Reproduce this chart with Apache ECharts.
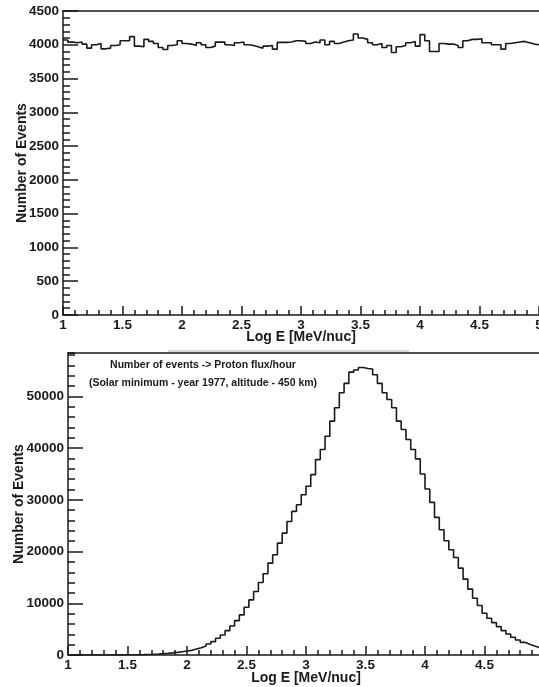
<!DOCTYPE html>
<html><head><meta charset="utf-8">
<script src="https://cdn.jsdelivr.net/npm/echarts@6/dist/echarts.min.js"></script>
<style>html,body{margin:0;padding:0;background:#fff}#c{width:539px;height:687px}</style>
</head><body><div id="c"></div>
<script>
// Histogram binning: 100 bins from Log E = 1 to 5
const binLow = 1;
const binWidth = 0.04;

// Top panel: number of events per bin (flat generated spectrum)
const topCounts = [
  4070,4040,4030,4040,4010,3950,4000,4020,3940,3950,
  3990,4000,4060,4060,4120,3980,3970,4080,4050,4020,
  3960,3930,3990,4000,4060,4020,4010,3990,4030,4000,
  3960,3980,4040,4040,4000,3990,4030,4040,4000,3990,
  3970,3950,3980,3990,3935,4035,4035,4040,4060,4060,
  4050,4020,4040,4030,4070,4000,4050,4020,4040,4060,
  4070,4160,4100,4080,4030,4000,4020,3960,3990,3885,
  3970,3990,4030,4050,3980,4150,4060,3900,3900,4020,
  4010,4010,3990,3960,4060,4080,4080,4090,4030,4030,
  4000,4000,3935,4020,4030,4040,4050,4030,4010,4000
];

// Bottom panel: number of events per bin (proton flux/hour)
const bottomCounts = [
  0,0,0,0,1,2,3,5,8,12,
  18,25,35,45,60,80,110,150,200,260,
  330,410,500,640,770,900,1160,1420,1740,2130,
  2580,3230,3880,4710,5620,6650,7750,9240,10660,12270,
  14020,15700,17760,19380,21640,23570,25830,27770,29060,31000,
  32620,34880,37790,39730,42310,45220,47810,50710,52520,54700,
  55100,55600,55400,55300,54200,52520,50710,49420,47810,45220,
  43600,41670,39730,37920,35010,32100,29520,26610,24230,22100,
  20350,18860,16800,14670,12730,10980,9560,8080,7110,6270,
  5490,4720,4070,3420,2900,2450,2100,1750,1450,1200
];

// Axis settings
const xRange = [1, 5];
const xMajor = 0.5;
const topYRange = [0, 4500];
const topYMajor = 500;
const bottomYRange = [0, 58400];
const bottomYMajor = 10000;
const bottomYMinor = 2000;

const xTitle = 'Log E [MeV/nuc]';
const yTitle = 'Number of Events';
const noteLines = ['Number of events -> Proton flux/hour', '(Solar minimum - year 1977, altitude - 450 km)'];

function stepData(counts) {
  const d = counts.map((c, i) => [+(binLow + i * binWidth).toFixed(2), c]);
  d.push([+(binLow + counts.length * binWidth).toFixed(2), counts[counts.length - 1]]);
  return d;
}

const FONT = '"Liberation Sans", Arial, sans-serif';
const INK = '#1a1a1a';
const lineSty = { color: INK, width: 1.5 };
const labelSty = { color: INK, fontFamily: FONT, fontWeight: 'bold', fontSize: 13.5 };
const nameSty = { color: INK, fontFamily: FONT, fontWeight: 'bold', fontSize: 14 };

function bottomX(grid, gap) {
  return {
    gridIndex: grid, type: 'value', min: xRange[0], max: xRange[1], interval: xMajor,
    axisLine: { show: true, onZero: false, lineStyle: lineSty },
    axisTick: { show: true, inside: true, length: 9, lineStyle: lineSty },
    minorTick: { show: true, splitNumber: 5, length: 5, lineStyle: lineSty },
    splitLine: { show: false }, minorSplitLine: { show: false },
    axisLabel: Object.assign({ margin: 3, formatter: v => String(v) }, labelSty),
    name: xTitle, nameLocation: 'middle', nameGap: gap, nameMoveOverlap: false, nameTextStyle: nameSty
  };
}
function frameX(grid) {
  return {
    gridIndex: grid, type: 'value', position: 'top', min: xRange[0], max: xRange[1],
    axisLine: { show: true, onZero: false, lineStyle: lineSty },
    axisTick: { show: false }, axisLabel: { show: false }, splitLine: { show: false }
  };
}

const option = {
  animation: false,
  backgroundColor: '#fff',
  grid: [
    { left: 63, top: 11, width: 476, height: 304, containLabel: false, outerBoundsMode: 'none' },
    { left: 68, top: 353, width: 476, height: 302, containLabel: false, outerBoundsMode: 'none' }
  ],
  xAxis: [bottomX(0, 15), frameX(0), bottomX(1, 16), frameX(1)],
  yAxis: [
    {
      gridIndex: 0, type: 'value', position: 'left', min: topYRange[0], max: topYRange[1], interval: topYMajor,
      axisLine: { show: true, onZero: false, lineStyle: lineSty },
      axisTick: { show: true, inside: true, length: 15, lineStyle: lineSty },
      minorTick: { show: true, splitNumber: 5, length: 7, lineStyle: lineSty },
      splitLine: { show: false }, minorSplitLine: { show: false },
      axisLabel: Object.assign({ margin: 4, formatter: v => String(v) }, labelSty),
      name: yTitle, nameLocation: 'middle', nameGap: 34, nameMoveOverlap: false, nameTextStyle: nameSty
    },
    {
      gridIndex: 1, type: 'value', position: 'left', min: bottomYRange[0], max: bottomYRange[1], interval: bottomYMajor,
      axisLine: { show: true, onZero: false, lineStyle: lineSty },
      axisTick: { show: true, inside: true, length: 15, lineStyle: lineSty },
      splitLine: { show: false },
      axisLabel: Object.assign({ margin: 4, showMaxLabel: false, formatter: v => String(v) }, labelSty),
      name: yTitle, nameLocation: 'middle', nameGap: 42, nameMoveOverlap: false, nameTextStyle: nameSty
    },
    {
      gridIndex: 1, type: 'value', position: 'left', offset: 0, min: bottomYRange[0], max: bottomYRange[1], interval: bottomYMinor,
      axisLine: { show: false },
      axisTick: { show: true, inside: true, length: 7, lineStyle: lineSty },
      axisLabel: { show: false }, splitLine: { show: false }
    }
  ],
  series: [
    {
      type: 'line', xAxisIndex: 0, yAxisIndex: 0, step: 'end', symbol: 'none',
      lineStyle: { color: INK, width: 1.6 }, data: stepData(topCounts)
    },
    {
      type: 'line', xAxisIndex: 2, yAxisIndex: 1, step: 'end', symbol: 'none',
      lineStyle: { color: INK, width: 1.6 }, data: stepData(bottomCounts)
    }
  ],
  graphic: [
    { type: 'line', shape: { x1: 168, y1: 351, x2: 409, y2: 351 }, style: { stroke: '#c8c8c8', lineWidth: 1.5 } },
    { type: 'text', x: 203, y: 365, style: { text: noteLines[0], font: 'bold 10.5px ' + FONT, fill: INK, textAlign: 'center', textVerticalAlign: 'middle' } },
    { type: 'text', x: 203, y: 383, style: { text: noteLines[1], font: 'bold 10.5px ' + FONT, fill: INK, textAlign: 'center', textVerticalAlign: 'middle' } }
  ]
};

const chart = echarts.init(document.getElementById('c'), null, { renderer: 'canvas' });
chart.setOption(option);
</script>
</body></html>
